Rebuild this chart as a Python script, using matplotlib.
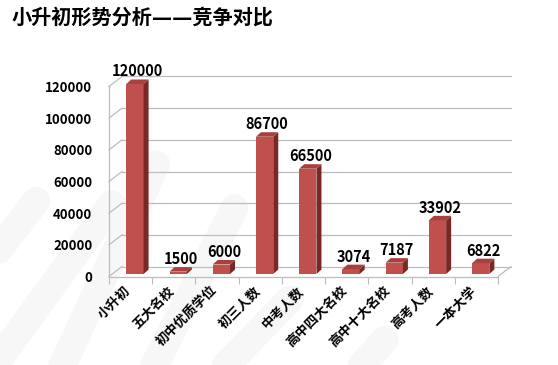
import matplotlib
matplotlib.use('Agg')
import matplotlib.pyplot as plt
from matplotlib.patches import Polygon
from matplotlib.lines import Line2D
from matplotlib.transforms import ScaledTranslation

plt.rcParams['font.family'] = ['Noto Sans CJK SC', 'DejaVu Sans']

title = '小升初形势分析——竞争对比'
categories = ['小升初', '五大名校', '初中优质学位', '初三人数', '中考人数',
              '高中四大名校', '高中十大名校', '高考人数', '一本大学']
values = [120000, 1500, 6000, 86700, 66500, 3074, 7187, 33902, 6822]
y_ticks = [0, 20000, 40000, 60000, 80000, 100000, 120000]

front_c = '#C0504D'
side_c = '#7A2826'
top_c = '#A8413E'
grid_c = '#BDBDBD'

fig = plt.figure(figsize=(5.58, 3.65), dpi=100)
fig.patch.set_facecolor('white')

# faint watermark stripes in the background
stripes = [((-0.03, 0.26), (0.065, 0.45)),
           ((0.0, 0.02), (0.20, 0.44)),
           ((0.10, -0.04), (0.28, 0.55)),
           ((0.26, -0.05), (0.42, 0.43)),
           ((0.38, -0.04), (0.52, 0.18)),
           ((0.62, -0.05), (0.69, 0.07))]
for (x0, y0), (x1, y1) in stripes:
    fig.add_artist(Line2D([x0, x1], [y0, y1], transform=fig.transFigure,
                          color='#F7F7F7', lw=20, solid_capstyle='round', zorder=0))

ax = fig.add_axes([109 / 558, 88.5 / 365, 389 / 558, 190 / 365])
ax.patch.set_visible(False)
ax.set_xlim(0, len(categories))
ax.set_ylim(0, 120000)
for s in ax.spines.values():
    s.set_visible(False)

# convert pixel depth offsets into data units
inv = ax.transData.inverted()
origin = ax.transData.transform((0, 0))
wx, wy = inv.transform(origin + [13, 10])   # wall depth
bx, by = inv.transform(origin + [5, 4.5])   # bar depth

n = len(categories)
# back wall gridlines and left wall diagonals
for v in y_ticks:
    ax.plot([wx, n + wx], [v + wy, v + wy], color=grid_c, lw=0.9, zorder=1, clip_on=False)
    ax.plot([0, wx], [v, v + wy], color=grid_c, lw=0.9, zorder=1, clip_on=False)
# floor front / right edge and front axis line
ax.plot([0, n], [0, 0], color=grid_c, lw=0.9, zorder=1, clip_on=False)
ax.plot([n, n + wx], [0, wy], color=grid_c, lw=0.9, zorder=1, clip_on=False)
ax.plot([0, 0], [0, 120000], color=grid_c, lw=0.9, zorder=1, clip_on=False)

bar_off = 0.40
bar_w = 0.40
z0 = wy * 0.25
lefts = [i + bar_off for i in range(n)]
bars = ax.bar(lefts, values, width=bar_w, align='edge', color=front_c, zorder=3,
              bottom=z0)
for b in bars:
    b.set_clip_on(False)
for x0, v in zip(lefts, values):
    x1 = x0 + bar_w
    top = v + z0
    ax.add_patch(Polygon([(x1, z0), (x1, top), (x1 + bx, top + by), (x1 + bx, z0 + by)],
                         closed=True, facecolor=side_c, edgecolor='none', zorder=3,
                         clip_on=False))
    ax.add_patch(Polygon([(x0, top), (x1, top), (x1 + bx, top + by), (x0 + bx, top + by)],
                         closed=True, facecolor=top_c, edgecolor='none', zorder=3,
                         clip_on=False))
    ax.text(x0 + bar_w / 2 + bx / 2, top + by, f'{v}', ha='center', va='baseline',
            fontsize=10.5, fontweight='bold', color='black', zorder=4,
            transform=ax.transData + ScaledTranslation(0, 3 / 100, fig.dpi_scale_trans))

# y axis labels
ax.set_yticks(y_ticks)
ax.set_yticklabels([str(v) for v in y_ticks], fontsize=9.5, fontweight='bold')
ax.tick_params(axis='y', length=0, pad=12)

# x tick marks at category boundaries, labels drawn rotated
ax.set_xticks(range(n + 1))
ax.set_xticklabels([])
ax.tick_params(axis='x', length=5, color=grid_c, direction='out')
lab_tr = ax.transData + ScaledTranslation(-2 / 100, -12 / 100, fig.dpi_scale_trans)
for i, c in enumerate(categories):
    ax.text(i + 0.5, 0, c, rotation=45, ha='right', va='center', rotation_mode='anchor',
            fontsize=9.5, fontweight='bold', transform=lab_tr, clip_on=False)

# DejaVu first so the em dashes join into one long rule; CJK falls back to Noto
fig.text(12 / 558, 1 - 18 / 365, title, fontsize=14.5, fontweight='bold',
         family=['DejaVu Sans', 'Noto Sans CJK SC'], ha='left', va='center')

fig.savefig('out.png', dpi=100)
